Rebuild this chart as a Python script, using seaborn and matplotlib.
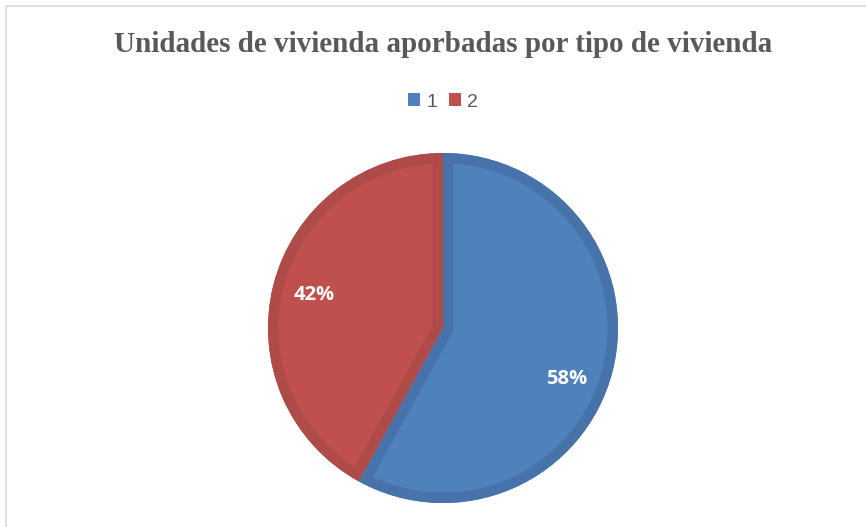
import matplotlib
matplotlib.use("Agg")
import matplotlib.pyplot as plt
import seaborn as sns
from matplotlib.patches import Patch, Rectangle, Wedge

# Data
categories = ["1", "2"]
shares = [58, 42]
fill_colors = ["#4F81BD", "#C0504D"]
edge_colors = ["#4773AA", "#AE4A47"]
title = "Unidades de vivienda aporbadas por tipo de vivienda"

sns.set_theme(style="white")
plt.rcParams["font.family"] = ["Liberation Sans", "DejaVu Sans"]

fig = plt.figure(figsize=(8.66, 5.27), dpi=100)
fig.patch.set_facecolor("white")

# light chart-area border (runs off right/bottom like the reference)
fig.patches.append(Rectangle((6 / 866, -0.05), 1.2, (527 - 6) / 527 + 0.05,
                             transform=fig.transFigure, fill=False,
                             edgecolor="#D9D9D9", linewidth=1.2))

ax = fig.add_axes([(443 - 175) / 866, (527 - 503) / 527, 350 / 866, 350 / 527])

wedges, texts, autotexts = ax.pie(
    shares, colors=fill_colors, startangle=90, counterclock=False,
    autopct="%1.0f%%", pctdistance=0.76,
    wedgeprops=dict(linewidth=0),
    textprops=dict(color="white", fontsize=14.5, fontweight="bold",
                   family=["Open Sans", "DejaVu Sans"]))

# inner darker bevel band: thick edge clipped to each wedge
for w, ec in zip(wedges, edge_colors):
    b = Wedge(w.center, w.r, w.theta1, w.theta2, facecolor="none",
              edgecolor=ec, linewidth=15)
    ax.add_patch(b)
    b.set_clip_path(w)

# Excel-style label nudge for the larger slice
x, y = autotexts[0].get_position()
autotexts[0].set_position((x - 0.03, y - 0.1))

ax.set_xlim(-1, 1)
ax.set_ylim(-1, 1)
ax.axis("off")

fig.text(443 / 866, 1 - 44 / 527, title, ha="center", va="center",
         fontsize=21, fontweight="bold", color="#595959",
         family=["Liberation Serif", "DejaVu Serif"])

handles = [Patch(facecolor=c, edgecolor="none") for c in fill_colors]
fig.legend(handles, categories, loc="center", bbox_to_anchor=(443 / 866, 1 - 102 / 527),
           ncol=2, frameon=False, fontsize=14, labelcolor="#595959",
           handlelength=0.65, handleheight=0.65, handletextpad=0.3, columnspacing=0.6)

fig.savefig("out.png", dpi=100, facecolor="white")
